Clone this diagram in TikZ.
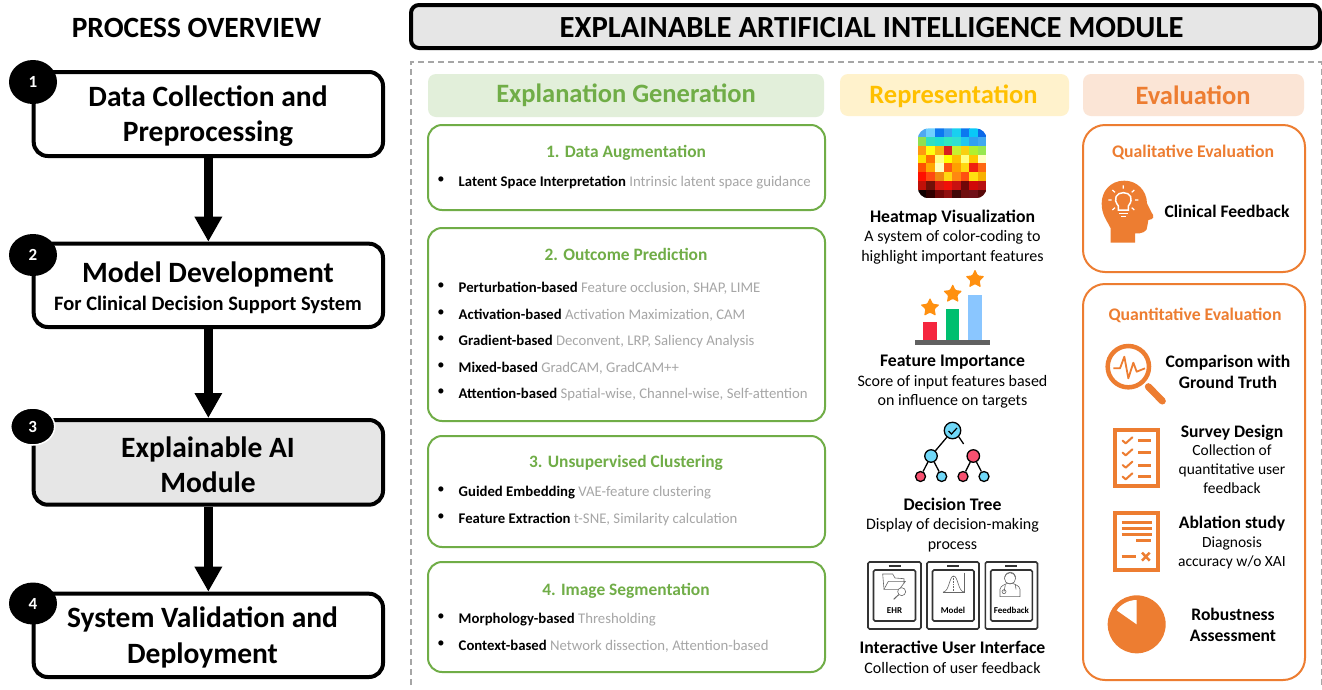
\documentclass[tikz,border=0pt]{standalone}
\usepackage{fontspec}
\setmainfont{Carlito}
\usetikzlibrary{arrows.meta,shapes.geometric,calc}
\definecolor{cgreen}{HTML}{70AD47}
\definecolor{cgreenbg}{HTML}{E2EFDA}
\definecolor{cyellow}{HTML}{FFC000}
\definecolor{cyellowbg}{HTML}{FFF2CC}
\definecolor{corange}{HTML}{ED7D31}
\definecolor{corangebg}{HTML}{FBE5D6}
\definecolor{cgrey}{HTML}{E6E6E6}
\definecolor{ctxt}{HTML}{A6A6A6}
\definecolor{tblue}{HTML}{70D8F8}
\definecolor{tred}{HTML}{F85070}
\definecolor{bred}{HTML}{F5263F}
\definecolor{bgreen}{HTML}{00BF6F}
\definecolor{bblue}{HTML}{8AC6FF}
\definecolor{sorange}{HTML}{FF9010}
\newcommand{\fs}[2]{\fontsize{#1}{#2}\selectfont}
\newcommand{\gt}[1]{\textcolor{ctxt}{#1}}
\newcommand{\boxat}[7]{% name x0 y0 x1 y1 style text
  \pgfmathsetmacro{\bw}{#4-#2}\pgfmathsetmacro{\bh}{#5-#3}
  \pgfmathsetmacro{\bx}{(#2+#4)/2}\pgfmathsetmacro{\by}{(#3+#5)/2}
  \node[#6,minimum width=\bw pt,minimum height=\bh pt,inner sep=0pt] (#1) at (\bx,\by) {#7};}
\tikzset{
  stepbox/.style={draw=black,line width=4pt,rounded corners=14pt,fill=white},
  steptext/.style={inner sep=0pt,align=center,font=\bfseries\fs{29.5}{35}},
  numdot/.style={ellipse,fill=black,text=white,inner sep=0pt,font=\bfseries\fs{17}{20}},
  flow/.style={line width=9.5pt,-{Triangle[width=26pt,length=25pt]}},
  head/.style={rounded corners=8pt},
  headtext/.style={inner sep=0pt,font=\bfseries\fs{26.5}{30}},
  gbox/.style={draw=cgreen,line width=2pt,rounded corners=14pt},
  obox/.style={draw=corange,line width=2pt,rounded corners=22pt},
  ghead/.style={anchor=base,inner sep=0pt,text=cgreen,font=\bfseries\fs{17.4}{20}},
  ohead/.style={text=corange,font=\bfseries\fs{17.7}{20}},
  item/.style={anchor=base west,inner sep=0pt,font=\fs{14.75}{17}},
  bul/.style={inner sep=0pt,font=\fs{14.5}{17}},
  rep/.style={align=center,inner sep=0pt,font=\fs{16}{19.5}},
  ev/.style={align=center,inner sep=0pt,font=\fs{15.5}{18.7}},
  evb/.style={align=center,inner sep=0pt,font=\bfseries\fs{17.6}{21}},
  tablet/.style={draw=black!80,line width=1.6pt,rounded corners=1.5pt},
  tabtext/.style={inner sep=0pt,font=\bfseries\fs{9}{10}},
  thin icon/.style={draw=black!60,line width=.6pt},
  prize/.style={star,star points=5,star point ratio=2.05,fill=sorange,inner sep=0pt,minimum size=20pt,rounded corners=1pt},
  tn/.style={circle,draw=black,line width=1.3pt,inner sep=0pt},
}
\begin{document}
\begin{tikzpicture}[x=1pt,y=-1pt]
\useasboundingbox (0,0) rectangle (1322,689);
\fill[white] (0,0) rectangle (1322,689);

% LEFT COLUMN
\node[inner sep=0pt,font=\bfseries\fs{29.4}{32}] (pov) at (196.5,28) {PROCESS OVERVIEW};
\boxat{b1}{33.7}{72}{383}{156}{stepbox}{}
\boxat{b2}{33.7}{243.7}{383}{327}{stepbox}{}
\boxat{b3}{33.7}{420}{383}{504.7}{stepbox,fill=cgrey}{}
\boxat{b4}{33.7}{593.7}{383}{677}{stepbox}{}
\node[steptext] (b1t) at (208,116) {Data Collection and\\Preprocessing};
\node[steptext] (b2t) at (208,288) {Model Development\\[-7pt]{\fs{20.5}{24}For Clinical Decision Support System}};
\node[steptext] (b3t) at (208,464.5) {Explainable AI\\Module};
\node[steptext,font=\bfseries\fs{29.5}{36}] (b4t) at (202.5,637.5) {System Validation and\\Deployment};
\draw[flow] (b1.south) -- (b2.north);
\draw[flow] (b2.south) -- (b3.north);
\draw[flow] (b3.south) -- (b4.north);
\node[numdot,minimum width=48pt,minimum height=44pt] (n1) at (33,82) {1};
\node[numdot,minimum width=48pt,minimum height=42pt] (n2) at (33,255) {2};
\node[numdot,minimum width=44pt,minimum height=37pt,draw=white,line width=1.5pt] (n3) at (32.7,426.5) {3};
\node[numdot,minimum width=48pt,minimum height=42pt] (n4) at (33,603.5) {4};

% TITLE
\boxat{title}{411}{5}{1320}{48}{draw=black,line width=4pt,rounded corners=8pt,fill=cgrey}{}
\node[inner sep=0pt,font=\bfseries\fs{30.7}{34}] (titlet) at (871.5,27.5) {EXPLAINABLE ARTIFICIAL INTELLIGENCE MODULE};
\draw[ctxt,line width=1.4pt,dash pattern=on 6pt off 4pt] (411,685) -- (411,62) -- (1321.5,62) -- (1321.5,685);

% HEADERS
\boxat{hg}{428}{74}{824}{117}{head,fill=cgreenbg}{}
\boxat{hr}{840}{74}{1069}{116}{head,fill=cyellowbg}{}
\boxat{he}{1083}{74}{1304}{116}{head,fill=corangebg}{}
\node[headtext,text=cgreen] (hgt) at (626,95) {Explanation Generation};
\node[headtext,text=cyellow] (hrt) at (953.5,96) {Representation};
\node[headtext,text=corange] (het) at (1193,95) {Evaluation};

% GREEN BOXES
\boxat{g1}{428}{125}{825}{210}{gbox}{}
\boxat{g2}{428}{228}{825}{421}{gbox}{}
\boxat{g3}{428}{436}{825}{547}{gbox}{}
\boxat{g4}{428}{562}{825}{672}{gbox}{}
\node[ghead] (g1h) at (626,157) {1. Data Augmentation};
\node[ghead] (g2h) at (626,260) {2. Outcome Prediction};
\node[ghead] (g3h) at (626,467) {3. Unsupervised Clustering};
\node[ghead] (g4h) at (626,595) {4. Image Segmentation};
\foreach \nm/\yy/\bt/\gtx in {
 i1/186/Latent Space Interpretation/Intrinsic latent space guidance,
 i2/292/Perturbation-based/{Feature occlusion, SHAP, LIME},
 i3/319/Activation-based/{Activation Maximization, CAM},
 i4/345/Gradient-based/{Deconvent, LRP, Saliency Analysis},
 i5/372/Mixed-based/{GradCAM, GradCAM++},
 i6/398/Attention-based/{Spatial-wise, Channel-wise, Self-attention},
 i7/496/Guided Embedding/VAE-feature clustering,
 i8/523/Feature Extraction/{t-SNE, Similarity calculation},
 i9/623/Morphology-based/Thresholding,
 i10/650/Context-based/{Network dissection, Attention-based}}{
  \node[bul] (\nm b) at (441,\yy-6) {•};
  \node[item] (\nm) at (458.5,\yy) {\textbf{\bt} \gt{\gtx}};
}

% REPRESENTATION: heatmap
\begin{scope}
\clip[rounded corners=11pt] (917.7,128.3) rectangle (986.7,198.3);
\foreach \rw [count=\r from 0] in {
 {4FA8F0,6FD0FF,0C78F0,38A0F0,18D0F0,0C78F0,08C8F8,0C68E8},
 {90E050,30E0C0,20E0D0,30E8C0,30E0D0,20C8F0,30A0F0,40A8F0},
 {FF9810,FFFF10,F8B810,D82020,C8F030,F8D010,B0F030,98E850},
 {FFE000,FF7000,FFFF80,FFFF00,FFC000,FFFF80,FFC800,FFFFC0},
 {FF5000,FFA800,FFFFC0,FF5810,FFA000,FFD810,F02010,FF6810},
 {FF1000,FF4810,F08810,FFD810,FF8810,FF5010,FFE010,F8B000},
 {C01008,701008,D81810,F01008,C81010,700808,D00808,B81010},
 {100000,300000,700808,901010,400808,701010,701018,580808}}{
  \foreach \hc [count=\k from 0] in \rw {
    \definecolor{hcell}{HTML}{\hc}
    \fill[hcell] (917.7+\k*8.625,128.3+\r*8.75) rectangle ++(8.8,8.9);
  }
}
\end{scope}
\node[rep] (r1) at (952.5,237) {\textbf{\fs{17.7}{19.5}Heatmap Visualization}\\A system of color-coding to\\highlight important features};

% bars
\fill[black!62] (915,339.5) rectangle (990,345);
\fill[bred] (923.3,321.7) rectangle (936.7,339.5);
\fill[bgreen] (946,309.3) rectangle (959,339.5);
\fill[bblue] (968.3,295) rectangle (981.7,339.5);
\node[prize] (s1) at (930,307.7) {};
\node[prize] (s2) at (952.7,294) {};
\node[prize] (s3) at (975,279.3) {};
\node[rep] (r2) at (952.5,382) {\textbf{\fs{17.7}{19.5}Feature Importance}\\Score of input features based\\on influence on targets};

% decision tree
\node[tn,fill=tblue,minimum size=16.5pt] (t0) at (952.5,430.5) {};
\node[tn,fill=tblue,minimum size=12.5pt] (t1) at (931,456) {};
\node[tn,fill=tred,minimum size=12.5pt] (t2) at (973.3,456) {};
\node[tn,fill=tred,minimum size=10pt] (t3) at (920.5,476.5) {};
\node[tn,fill=tblue,minimum size=10pt] (t4) at (941.7,476.5) {};
\node[tn,fill=tred,minimum size=10pt] (t5) at (963,476.5) {};
\node[tn,fill=tblue,minimum size=10pt] (t6) at (984,476.5) {};
\draw[line width=1.3pt] (t0) -- (t1);
\draw[line width=1.3pt] (t0.south east) -- ($(t0.south east)!.5!(t2.north west)$) coordinate (tg);
\draw[line width=1.3pt] (t1) -- (t3);
\draw[line width=1.3pt] (t1) -- (t4);
\draw[line width=1.3pt] (t2) -- (t5);
\draw[line width=1.3pt] (t2) -- (t6);
\draw[line width=1.2pt] (948.5,431) -- (951.5,434) -- (957,428);
\node[rep] (r3) at (952.5,525) {\textbf{\fs{17.7}{19.5}Decision Tree}\\Display of decision-making\\process};

% tablets
\foreach \nm/\xa/\xb/\ia/\ib/\lab in {a/868/921/873.5/915.5/EHR,c/927/979/932.5/974/Model,d/985.3/1037.5/990.7/1032.3/Feedback}{
  \draw[tablet] (\xa,562) rectangle (\xb,629);
  \draw[tablet] (\ia,570) rectangle (\ib,621);
  \pgfmathsetmacro{\lx}{(\xa+\xb)/2}
  \draw[black!80,line width=1.2pt] (\lx-6,566) -- (\lx+6,566);
  \node[tabtext] (tab\nm) at (\lx,610.7) {\lab};
}
\begin{scope}[shift={(850,550)},scale=1/3]
  \draw[thin icon] (102,118) -- (98,72) -- (128,72) -- (135,84) -- (162,86) -- (162,100);
  \draw[thin icon] (102,118) -- (115,94) -- (166,94) -- (148,118) -- cycle;
  \draw[thin icon,fill=white] (155,125) circle (12);
  \draw[black!60,line width=1pt] (146,134) -- (131,148);
  \draw[thin icon] (278,128) -- (345,128);
  \draw[thin icon] (343,68) -- (343,128);
  \draw[thin icon] (280,126) .. controls (298,124) and (298,78) .. (311,78) .. controls (324,78) and (324,124) .. (342,126);
  \draw[thin icon,densely dotted] (311,78) -- (311,128);
  \draw[thin icon] (480,85) circle (17);
  \draw[thin icon] (464,80) .. controls (470,62) and (492,62) .. (497,80);
  \draw[thin icon] (450,140) -- (450,118) .. controls (452,106) and (465,104) .. (472,100) -- (488,100) .. controls (495,104) and (508,106) .. (510,118) -- (510,140) -- cycle;
  \draw[thin icon] (466,104) -- (462,125) (462,125) circle (6) (496,104) -- (498,118);
\end{scope}
\node[rep] (r4) at (952.5,657.5) {\textbf{\fs{17.7}{21}Interactive User Interface}\\Collection of user feedback};

% EVALUATION
\boxat{o1}{1083}{125}{1305}{272}{obox}{}
\boxat{o2}{1083}{284}{1305}{680}{obox}{}
\node[ohead] (oh1) at (1193,152) {Qualitative Evaluation};
\node[ohead] (oh2) at (1195,315) {Quantitative Evaluation};
\node[evb] (e1) at (1227,211) {Clinical Feedback};
\node[evb] (e2) at (1228,371.5) {Comparison with\\Ground Truth};
\node[ev] (e3) at (1232,459) {\textbf{\fs{17.6}{19}Survey Design}\\Collection of\\quantitative user\\feedback};
\node[ev] (e4) at (1232,542.5) {\textbf{\fs{17.6}{19}Ablation study}\\Diagnosis\\accuracy w/o XAI};
\node[evb] (e5) at (1233,625) {Robustness\\Assessment};

% head icon
\begin{scope}[shift={(1085,120)},scale=1/3]
  \fill[corange] (77,368) -- (150,368) -- (150,340) .. controls (170,342) and (188,335) .. (187,318)
    -- (190,300) .. controls (208,298) and (208,288) .. (200,278) -- (186,250)
    .. controls (185,210) and (155,182) .. (118,182) .. controls (75,182) and (50,215) .. (50,250)
    .. controls (50,285) and (65,300) .. (77,325) -- cycle;
  \draw[white,line width=1.5pt] (100,258) .. controls (82,235) and (95,218) .. (115,218) .. controls (135,218) and (148,235) .. (130,258) -- (130,270) -- (100,270) -- cycle;
  \draw[white,line width=1.2pt] (102,280) -- (128,280) (108,289) -- (122,289);
  \draw[white,line width=1.2pt] (115,196) -- (115,206) (82,210) -- (90,217) (148,210) -- (140,217) (70,240) -- (80,240) (150,240) -- (160,240) (82,270) -- (90,263) (148,270) -- (140,263);
  % magnifier
  \draw[corange,line width=4.5pt] (130,740) circle (62);
  \draw[corange,line width=7pt,line cap=round] (190,800) -- (232,843);
  \draw[corange,line width=1.8pt,line join=round] (85,745) -- (105,745) -- (118,710) -- (130,775) -- (145,728) -- (155,755) -- (180,745);
\end{scope}

\begin{scope}[shift={(1085,410)},scale=1/3]
  \draw[corange,line width=4pt] (91,59) rectangle (219,229);
  \foreach \yy in {92,128,165,200}{
    \draw[corange,line width=2pt,line cap=round,line join=round] (113,\yy) -- (122,\yy+8) -- (142,\yy-10);
    \draw[corange,line width=3pt] (160,\yy) -- (198,\yy);
  }
  \draw[corange,line width=4pt] (91,308) rectangle (219,479);
  \foreach \yy in {338,356,374}{\draw[corange,line width=3.5pt] (110,\yy) -- (201,\yy);}
  \draw[corange,line width=3.5pt] (153,392) -- (198,392);
  \draw[corange,line width=3.5pt] (110,440) -- (152,440);
  \draw[corange,line width=2.5pt] (171,428) -- (194,452) (194,428) -- (171,452);
  % pie
  \fill[corange] (155,643) circle (87);
  \fill[white] (155,643) -- (155,570) arc[start angle=-90,end angle=-145,radius=73] -- cycle;
\end{scope}
\end{tikzpicture}
\end{document}
